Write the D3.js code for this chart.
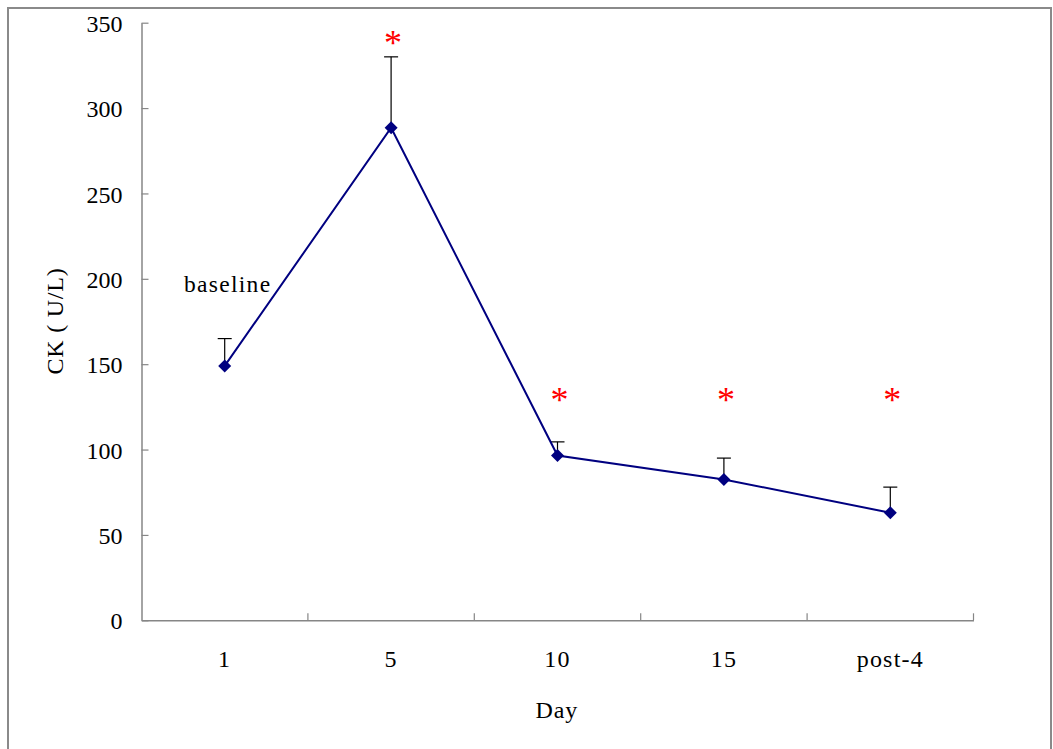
<!DOCTYPE html>
<html><head><meta charset="utf-8">
<script src="https://cdn.jsdelivr.net/npm/d3@7"></script>
<style>body{margin:0;background:#fff}svg{display:block}</style>
</head><body>
<svg id="c" width="1053" height="749"></svg>
<script>
const categories = ["1", "5", "10", "15", "post-4"];
const ckMean = [149, 288.5, 96.5, 82.5, 63];
const ckUpperErr = [165, 330, 104.5, 95, 78];
const significant = [false, true, true, true, true];
const starLevel = [null, 341, 131.5, 131.5, 131.5];
const yTicks = [0, 50, 100, 150, 200, 250, 300, 350];
const annotation = {text: "baseline", value: 192};

(function () {
const svg = d3.select("#c");
const font = "'Times New Roman','Liberation Serif',serif";
const axisColor = "#868686";

svg.append("rect").attr("x", 8).attr("y", 8).attr("width", 1043).attr("height", 760)
  .attr("fill", "#fff").attr("stroke", "#8a8a8a").attr("stroke-width", 2);

const pLeft = 141.5, pRight = 973.5, pTop = 22.7, pBottom = 620.3;
const x = d3.scaleBand().domain(categories).range([pLeft, pRight]).padding(0);
const y = d3.scaleLinear().domain([0, 350]).range([pBottom, pTop]);

// Y axis
const gy = svg.append("g").attr("transform", `translate(${pLeft},0)`)
  .call(d3.axisLeft(y).tickValues(yTicks).tickSizeInner(-7).tickSizeOuter(0).tickPadding(0).tickFormat(d3.format("d")));
gy.select(".domain").attr("stroke", axisColor).attr("stroke-width", 1.5);
gy.selectAll(".tick line").attr("stroke", axisColor).attr("stroke-width", 1.2);
gy.selectAll(".tick text").attr("x", -19).attr("dy", "0.36em")
  .attr("font-family", font).attr("font-size", 24).attr("fill", "#000");

// X axis
const gx = svg.append("g").attr("transform", `translate(0,${pBottom})`)
  .call(d3.axisBottom(x).tickSize(0).tickPadding(0));
gx.select(".domain").attr("stroke", axisColor).attr("stroke-width", 1.5);
gx.selectAll(".tick text").attr("y", 47).attr("dy", 0)
  .attr("font-family", font).attr("font-size", 24).attr("letter-spacing", 1.2).attr("fill", "#000");
const bounds = categories.map(c => x(c)).concat([x(categories[categories.length - 1]) + x.bandwidth()]).slice(1);
svg.append("g").selectAll("line").data(bounds).join("line")
  .attr("x1", d => d).attr("x2", d => d).attr("y1", pBottom).attr("y2", pBottom - 7)
  .attr("stroke", axisColor).attr("stroke-width", 1.2);

// axis titles
svg.append("text").attr("x", (pLeft + pRight) / 2 - 0.7).attr("y", 718)
  .attr("text-anchor", "middle").attr("font-family", font).attr("font-size", 24).attr("letter-spacing", 0.8).text("Day");
svg.append("text").attr("transform", "translate(63,321) rotate(-90)")
  .attr("text-anchor", "middle").attr("font-family", font).attr("font-size", 24).attr("letter-spacing", 0.8).text("CK ( U/L)");

const cx = c => x(c) + x.bandwidth() / 2;
const data = categories.map((c, i) => ({c, m: ckMean[i], e: ckUpperErr[i], s: significant[i], sl: starLevel[i]}));

// error bars
const eb = svg.append("g").attr("stroke", "#000").attr("stroke-width", 1.2);
eb.selectAll(".v").data(data).join("line").attr("class", "v")
  .attr("x1", d => cx(d.c)).attr("x2", d => cx(d.c)).attr("y1", d => y(d.m)).attr("y2", d => y(d.e));
eb.selectAll(".h").data(data).join("line").attr("class", "h")
  .attr("x1", d => cx(d.c) - 7).attr("x2", d => cx(d.c) + 7).attr("y1", d => y(d.e)).attr("y2", d => y(d.e));

// line
svg.append("path").datum(data)
  .attr("d", d3.line().x(d => cx(d.c)).y(d => y(d.m)))
  .attr("fill", "none").attr("stroke", "#000080").attr("stroke-width", 2);

// diamond markers
svg.append("g").selectAll("path").data(data).join("path")
  .attr("transform", d => `translate(${cx(d.c)},${y(d.m)})`)
  .attr("d", "M0,-6.5L6.5,0L0,6.5L-6.5,0Z").attr("fill", "#000080");

// significance stars
svg.append("g").selectAll("text").data(data.filter(d => d.s)).join("text")
  .attr("x", d => cx(d.c) + 2).attr("y", d => y(d.sl) + 16.5)
  .attr("text-anchor", "middle").attr("font-family", font).attr("font-size", 36)
  .attr("fill", "#ff0000").text("*");

// annotation
svg.append("text").attr("x", x(categories[0]) + 42.5).attr("y", y(annotation.value))
  .attr("font-family", font).attr("font-size", 23.5).attr("letter-spacing", 1.3).text(annotation.text);
})();
</script>
</body></html>
